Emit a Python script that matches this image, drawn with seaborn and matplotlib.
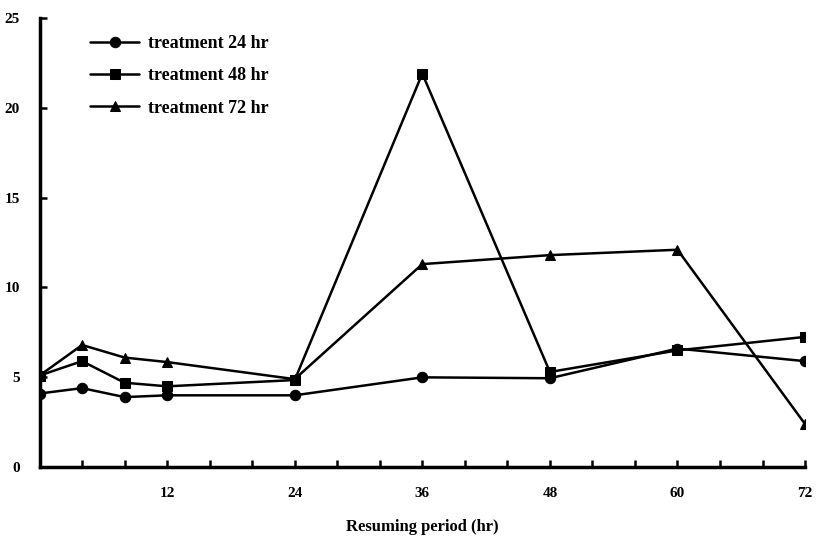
import pandas as pd
import matplotlib.pyplot as plt
import seaborn as sns

# data
hours = [0, 4, 8, 12, 24, 36, 48, 60, 72]
t24 = [4.1, 4.4, 3.9, 4.0, 4.0, 5.0, 4.95, 6.6, 5.9]
t48 = [5.1, 5.9, 4.7, 4.5, 4.85, 21.9, 5.3, 6.5, 7.25]
t72 = [5.1, 6.8, 6.1, 5.85, 4.9, 11.3, 11.8, 12.1, 2.4]
series = ['treatment 24 hr', 'treatment 48 hr', 'treatment 72 hr']

df = pd.DataFrame({'hr': hours * 3,
                   'val': t24 + t48 + t72,
                   'grp': [s for s in series for _ in hours]})

sns.set_style('ticks')
plt.rcParams['font.family'] = ['Liberation Serif', 'DejaVu Serif']
plt.rcParams['text.color'] = 'black'
plt.rcParams['axes.labelcolor'] = 'black'

fig, ax = plt.subplots(figsize=(8.24, 5.42), dpi=100)
fig.subplots_adjust(left=0.048, right=0.977, top=0.967, bottom=0.138)

sns.lineplot(data=df, x='hr', y='val', hue='grp', style='grp',
             markers=['o', 's', '^'], dashes=False,
             palette=['black'] * 3, linewidth=1.8, markersize=7.5,
             markeredgecolor='black', ax=ax)

ax.set_xlim(0, 72)
ax.set_ylim(0, 25)
ax.set_xticks([12, 24, 36, 48, 60, 72])
ax.set_xticks(range(0, 73, 4), minor=True)
ax.set_yticks([0, 5, 10, 15, 20, 25])
ax.tick_params(axis='both', direction='in', length=5, width=1.8, labelsize=11,
               colors='black')
ax.tick_params(axis='x', which='minor', direction='in', length=5, width=1.8,
               colors='black')
ax.tick_params(axis='x', pad=14)
ax.tick_params(axis='y', pad=14)
for lab in ax.get_xticklabels() + ax.get_yticklabels():
    lab.set_fontweight('bold')
for s in ['top', 'right']:
    ax.spines[s].set_visible(False)
for s in ['left', 'bottom']:
    ax.spines[s].set_linewidth(2.5)
    ax.spines[s].set_color('black')

ax.set_xlabel('Resuming period (hr)', fontsize=12, fontweight='bold', labelpad=14)
ax.set_ylabel('')

leg = ax.legend(loc='upper left', bbox_to_anchor=(0.045, 0.998), frameon=False,
                prop={'size': 13, 'weight': 'bold'}, handlelength=2.7,
                handletextpad=0.5, labelspacing=0.85)

plt.savefig('out.png', dpi=100)
